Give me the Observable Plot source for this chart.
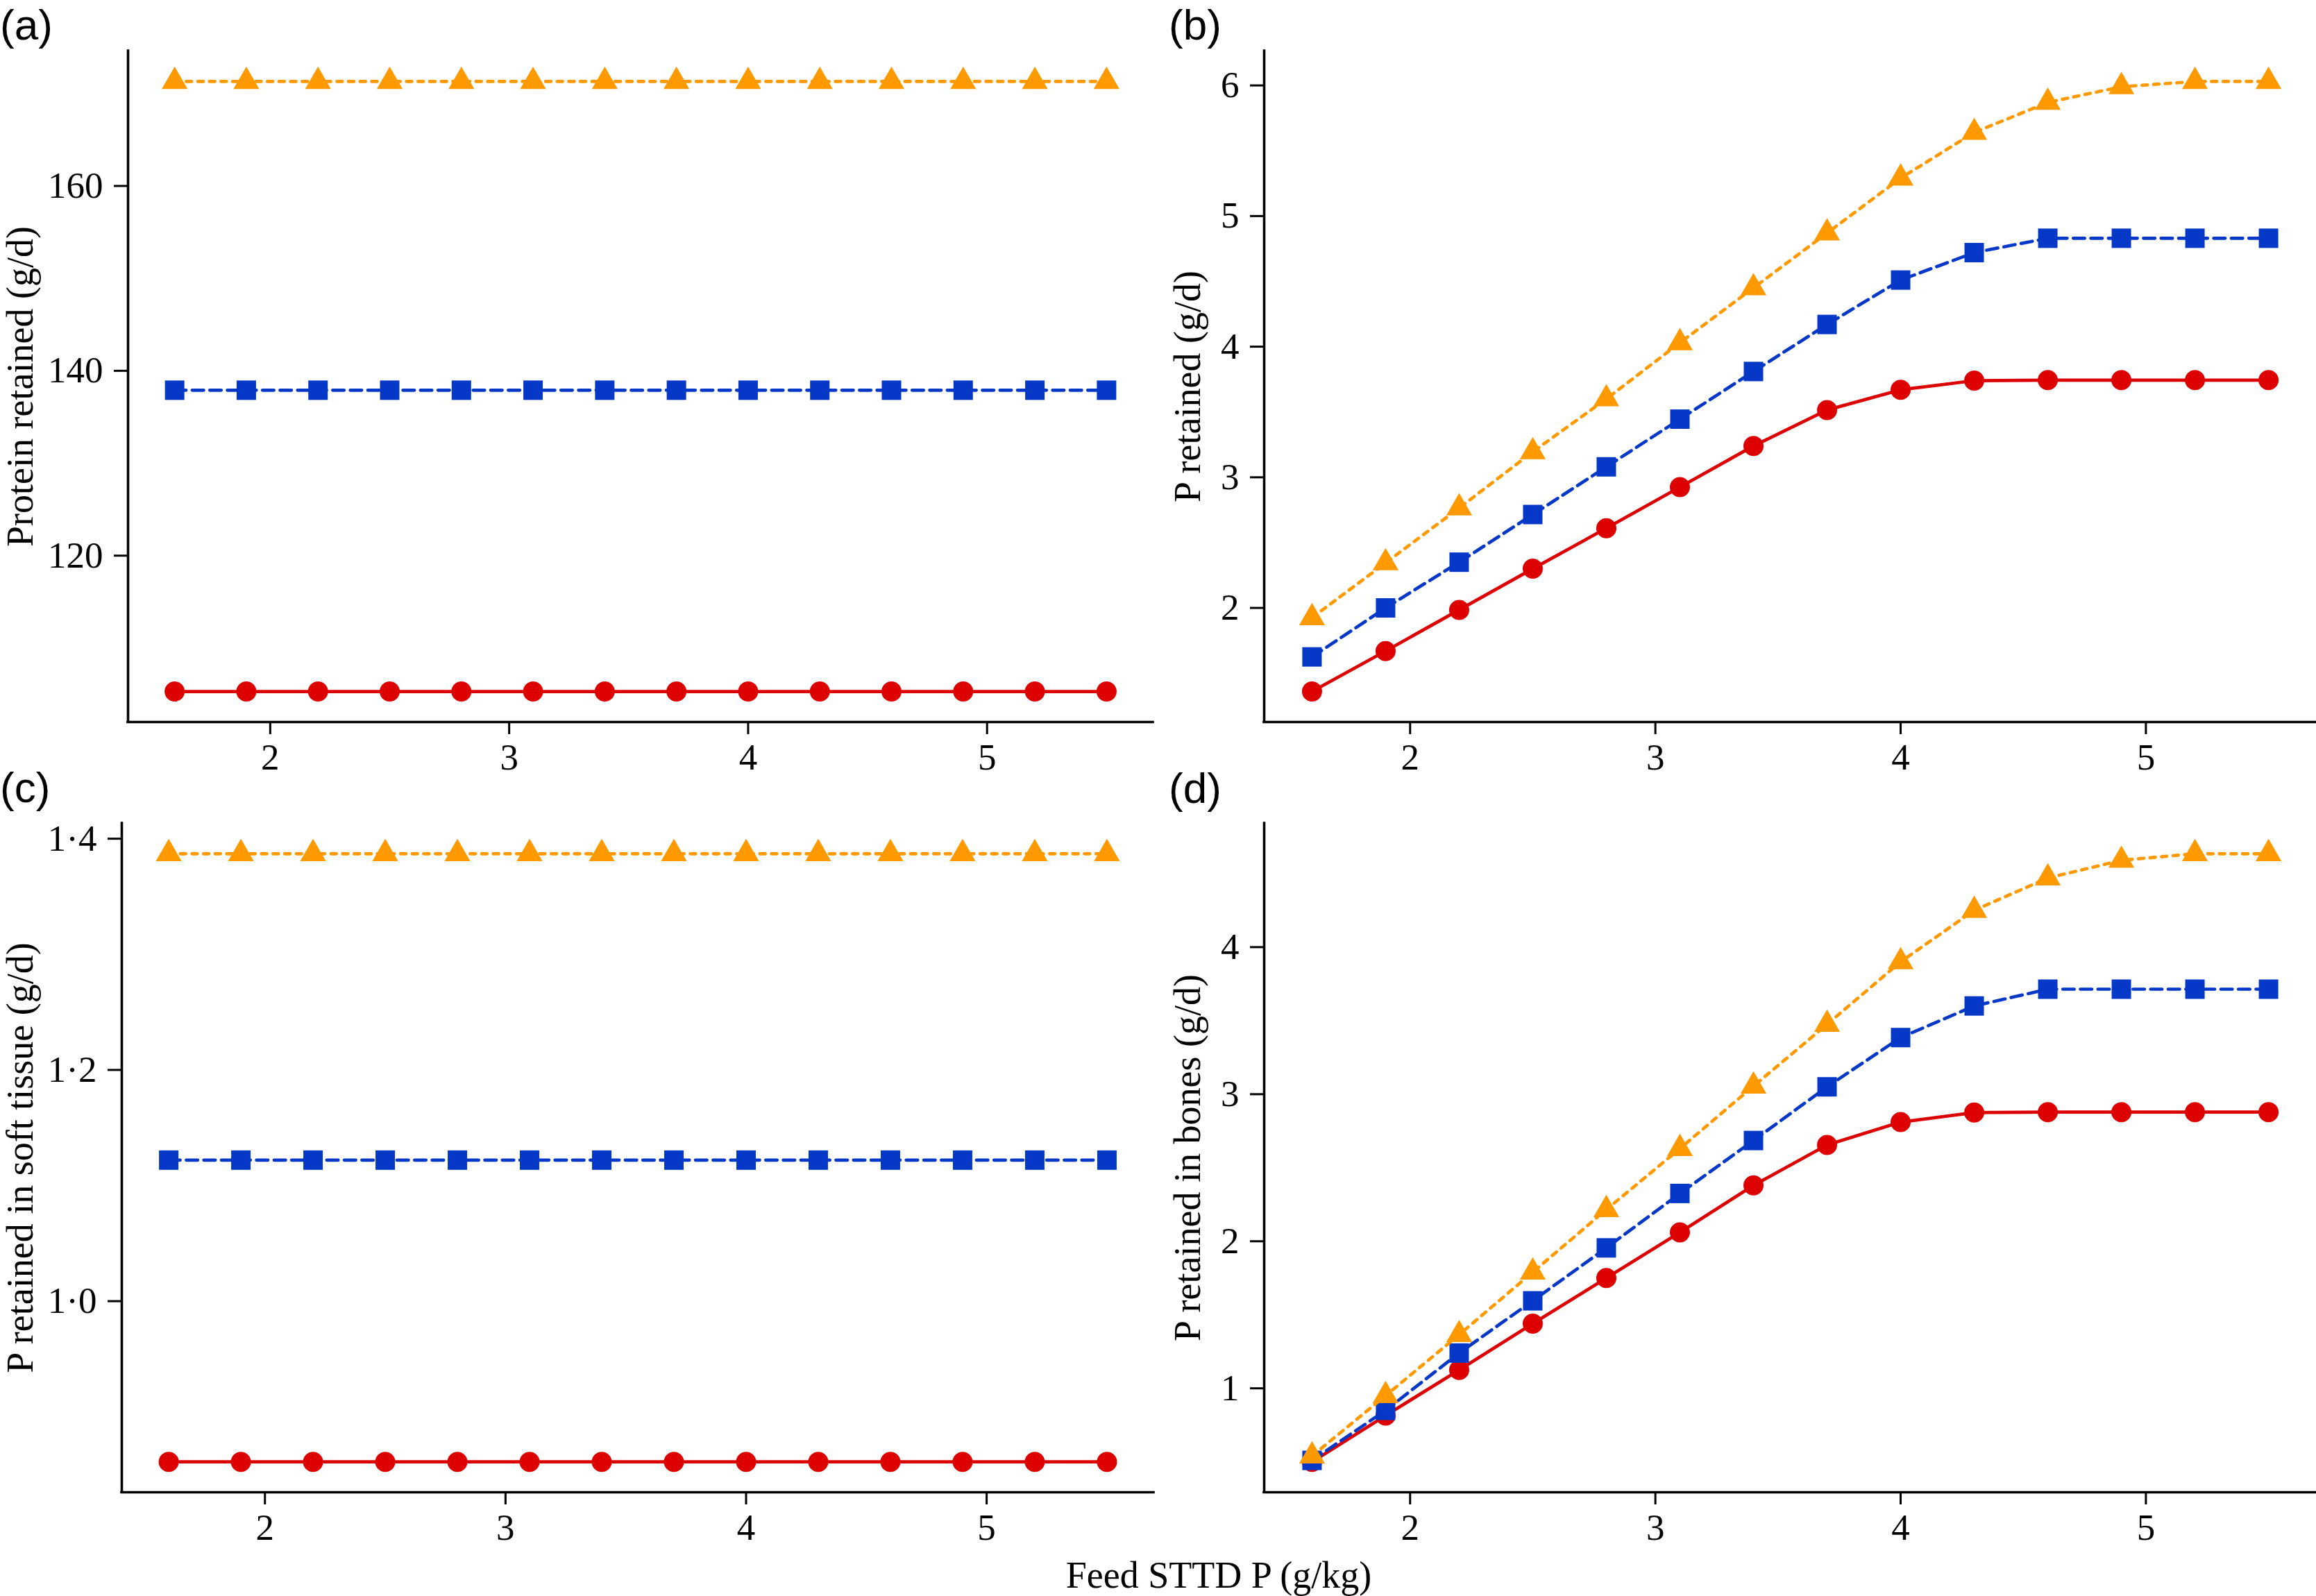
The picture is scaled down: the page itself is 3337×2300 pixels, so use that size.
<!DOCTYPE html>
<html>
<head>
<meta charset="utf-8">
<script src="https://cdn.jsdelivr.net/npm/d3@7"></script>
<script src="https://cdn.jsdelivr.net/npm/@observablehq/plot@0.6"></script>
<style>
  html, body { margin: 0; padding: 0; background: #fff; }
  #fig { position: relative; width: 3337px; height: 2300px; overflow: hidden; background: #fff; }
  .panel { position: absolute; }
  .plabel { position: absolute; font-family: 'Liberation Sans', Arial, sans-serif; font-size: 62px; line-height: 1; color: #000; white-space: nowrap; }
  .xtitle { position: absolute; font-family: 'Liberation Serif', 'Times New Roman', serif; font-size: 54px; line-height: 1; text-align: center; color: #000; white-space: nowrap; }
</style>
</head>
<body>
<div id="fig"></div>
<script>
// ---------------- data ----------------
const feedSTTDP = [1.6, 1.9, 2.2, 2.5, 2.8, 3.1, 3.4, 3.7, 4.0, 4.3, 4.6, 4.9, 5.2, 5.5];
const xTicks = [2, 3, 4, 5];
const xTitle = "Feed STTD P (g/kg)";

// (a) Protein retained (g/d)
const proteinRed    = [105.3, 105.3, 105.3, 105.3, 105.3, 105.3, 105.3, 105.3, 105.3, 105.3, 105.3, 105.3, 105.3, 105.3];
const proteinBlue   = [137.9, 137.9, 137.9, 137.9, 137.9, 137.9, 137.9, 137.9, 137.9, 137.9, 137.9, 137.9, 137.9, 137.9];
const proteinOrange = [171.3, 171.3, 171.3, 171.3, 171.3, 171.3, 171.3, 171.3, 171.3, 171.3, 171.3, 171.3, 171.3, 171.3];
const proteinTicks = [120, 140, 160];

// (b) P retained (g/d)
const pRetRed    = [1.36, 1.67, 1.985, 2.30, 2.61, 2.925, 3.24, 3.515, 3.67, 3.74, 3.744, 3.744, 3.744, 3.744];
const pRetBlue   = [1.625, 2.0, 2.35, 2.715, 3.08, 3.445, 3.81, 4.17, 4.51, 4.72, 4.83, 4.83, 4.83, 4.83];
const pRetOrange = [1.925, 2.345, 2.765, 3.195, 3.60, 4.03, 4.45, 4.87, 5.29, 5.64, 5.87, 5.99, 6.03, 6.03];
const pRetTicks = [2, 3, 4, 5, 6];

// (c) P retained in soft tissue (g/d)
const softRed    = [0.861, 0.861, 0.861, 0.861, 0.861, 0.861, 0.861, 0.861, 0.861, 0.861, 0.861, 0.861, 0.861, 0.861];
const softBlue   = [1.122, 1.122, 1.122, 1.122, 1.122, 1.122, 1.122, 1.122, 1.122, 1.122, 1.122, 1.122, 1.122, 1.122];
const softOrange = [1.387, 1.387, 1.387, 1.387, 1.387, 1.387, 1.387, 1.387, 1.387, 1.387, 1.387, 1.387, 1.387, 1.387];
const softTicks = [1.0, 1.2, 1.4];

// (d) P retained in bones (g/d)
const boneRed    = [0.50, 0.815, 1.125, 1.44, 1.75, 2.06, 2.38, 2.655, 2.81, 2.875, 2.878, 2.878, 2.878, 2.878];
const boneBlue   = [0.51, 0.85, 1.24, 1.595, 1.955, 2.325, 2.685, 3.05, 3.385, 3.60, 3.714, 3.714, 3.714, 3.714];
const boneOrange = [0.54, 0.95, 1.365, 1.79, 2.215, 2.63, 3.055, 3.475, 3.90, 4.25, 4.47, 4.59, 4.635, 4.635];
const boneTicks = [1, 2, 3, 4];

// ---------------- styling ----------------
const seriesStyles = [
  { color: "#dc0000", symbol: "circle",   r: 14.5, dash: null },
  { color: "#0638c8", symbol: "square",   r: 15.8, dash: "16.5,8.8" },
  { color: "#ff9900", symbol: "triangle", r: 13.8, dash: "7.8,8.9" }
];
const serif = "'Liberation Serif', 'Times New Roman', serif";
const expand = (lo, hi) => [lo - 0.05 * (hi - lo), hi + 0.05 * (hi - lo)];
const xDomain = expand(d3.min(feedSTTDP), d3.max(feedSTTDP));
const dotFmt = d => d.toFixed(1).replace(".", "\u00B7");

function makePanel(cfg) {
  const all = cfg.series.flat();
  const yDomain = expand(d3.min(all), d3.max(all));
  const marks = [
    Plot.ruleX([xDomain[0]], { strokeWidth: 3.6, strokeLinecap: "square" }),
    Plot.ruleY([yDomain[0]], { strokeWidth: 3.6, strokeLinecap: "square" }),
    Plot.axisX({ ticks: xTicks, tickSize: 18, tickPadding: 13, strokeWidth: 3, label: null, tickFormat: d => String(d), fontSize: 53 }),
    Plot.axisY({ ticks: cfg.yTicks, tickSize: 20, tickPadding: 16, strokeWidth: 3, label: null, tickFormat: cfg.yFormat, fontSize: 53 }),
    Plot.text([cfg.yLabel], { text: d => d, frameAnchor: "left", textAnchor: "middle", lineAnchor: "middle", rotate: -90, dx: cfg.titleDx, fontSize: 54 })
  ];
  cfg.series.forEach((ys, i) => {
    const st = seriesStyles[i];
    const rows = feedSTTDP.map((x, j) => ({ x, y: ys[j] }));
    marks.push(Plot.line(rows, { x: "x", y: "y", stroke: st.color, strokeWidth: 4.7, strokeDasharray: st.dash ?? undefined }));
    marks.push(Plot.dot(rows, { x: "x", y: "y", symbol: st.symbol, r: st.r, fill: st.color, stroke: "none" }));
  });
  const svg = Plot.plot({
    width: cfg.width, height: cfg.height,
    marginLeft: cfg.ml, marginRight: cfg.mr, marginTop: cfg.mt, marginBottom: cfg.mb,
    x: { domain: xDomain },
    y: { domain: yDomain },
    style: { fontFamily: serif, fontSize: "53px", background: "transparent", maxWidth: "none", overflow: "visible", color: "#000" },
    marks
  });
  const div = document.createElement("div");
  div.className = "panel";
  div.style.left = cfg.left + "px";
  div.style.top = cfg.top + "px";
  div.style.width = cfg.width + "px";
  div.style.height = cfg.height + "px";
  div.appendChild(svg);
  document.getElementById("fig").appendChild(div);
}

makePanel({ left: 0, top: 0, width: 1680, height: 1120, ml: 184, mr: 19, mt: 73, mb: 80,
  series: [proteinRed, proteinBlue, proteinOrange], yTicks: proteinTicks, yFormat: d => String(d),
  yLabel: "Protein retained (g/d)", titleDx: -155 });
makePanel({ left: 1680, top: 0, width: 1657, height: 1120, ml: 141, mr: 0, mt: 73, mb: 80,
  series: [pRetRed, pRetBlue, pRetOrange], yTicks: pRetTicks, yFormat: d => String(d),
  yLabel: "P retained (g/d)", titleDx: -110 });
makePanel({ left: 0, top: 1120, width: 1680, height: 1180, ml: 175, mr: 18, mt: 66, mb: 150,
  series: [softRed, softBlue, softOrange], yTicks: softTicks, yFormat: dotFmt,
  yLabel: "P retained in soft tissue (g/d)", titleDx: -146 });
makePanel({ left: 1680, top: 1120, width: 1657, height: 1180, ml: 141, mr: 0, mt: 66, mb: 150,
  series: [boneRed, boneBlue, boneOrange], yTicks: boneTicks, yFormat: d => String(d),
  yLabel: "P retained in bones (g/d)", titleDx: -110 });

// panel letters and shared x title
const fig = document.getElementById("fig");
[["(a)", 0, 5], ["(b)", 1684, 5], ["(c)", 0, 1104], ["(d)", 1684, 1105]].forEach(([t, x, y]) => {
  const d = document.createElement("div");
  d.className = "plabel"; d.textContent = t;
  d.style.left = x + "px"; d.style.top = y + "px";
  fig.appendChild(d);
});
const xt = document.createElement("div");
xt.className = "xtitle"; xt.textContent = xTitle;
xt.style.left = "1256px"; xt.style.width = "1000px"; xt.style.top = "2243px";
fig.appendChild(xt);
</script>
</body>
</html>
